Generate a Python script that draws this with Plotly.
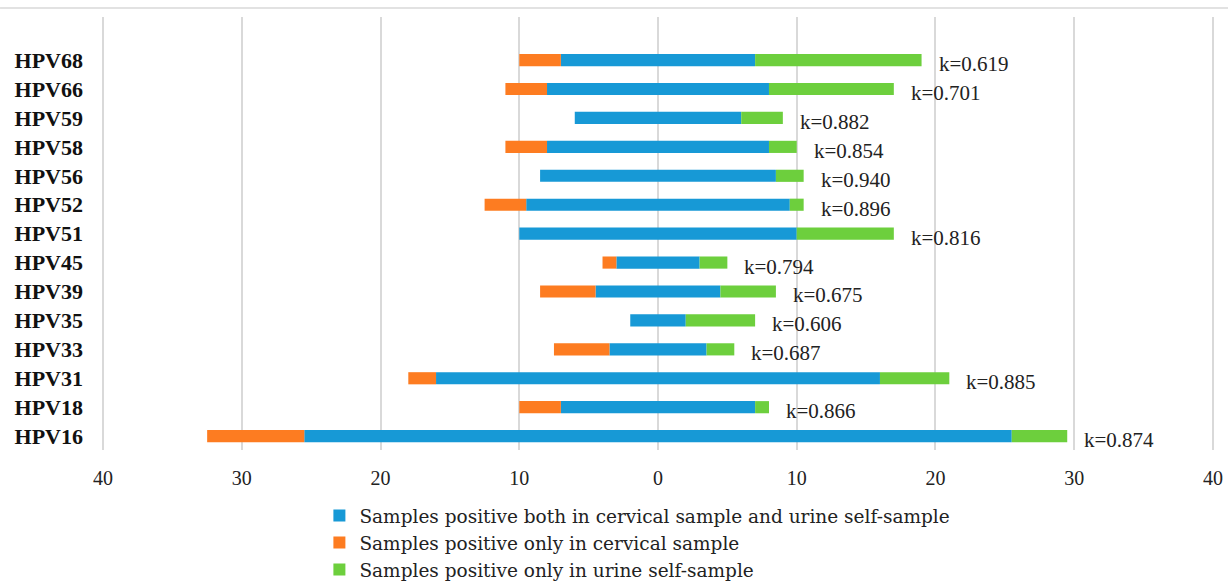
import plotly.graph_objects as go

types = ["HPV16", "HPV18", "HPV31", "HPV33", "HPV35", "HPV39", "HPV45",
         "HPV51", "HPV52", "HPV56", "HPV58", "HPV59", "HPV66", "HPV68"]
both = [51, 14, 32, 7, 4, 9, 6, 20, 19, 17, 16, 12, 16, 14]
cervical_only = [7, 3, 2, 4, 0, 4, 1, 0, 3, 0, 3, 0, 3, 3]
urine_only = [4, 1, 5, 2, 5, 4, 2, 7, 1, 2, 2, 3, 9, 12]
kappa = ["k=0.874", "k=0.866", "k=0.885", "k=0.687", "k=0.606", "k=0.675", "k=0.794",
         "k=0.816", "k=0.896", "k=0.940", "k=0.854", "k=0.882", "k=0.701", "k=0.619"]
tick_vals = [-40, -30, -20, -10, 0, 10, 20, 30, 40]
tick_text = ["40", "30", "20", "10", "0", "10", "20", "30", "40"]

names = ["Samples positive both in cervical sample and urine self-sample",
         "Samples positive only in cervical sample",
         "Samples positive only in urine self-sample"]
colors = ["#1799d6", "#fd7c21", "#6dcf3d"]
FONT = "Liberation Serif"
LEGFONT = "DejaVu Serif"

half = [b / 2 for b in both]
fig = go.Figure()
fig.add_trace(go.Bar(y=types, x=both, base=[-h for h in half], orientation="h",
                     name=names[0], legendgroup="a",
                     marker=dict(color=colors[0], line_width=0), width=0.42))
fig.add_trace(go.Bar(y=types, x=cervical_only, base=[-h - c for h, c in zip(half, cervical_only)],
                     orientation="h", name=names[1], legendgroup="b",
                     marker=dict(color=colors[1], line_width=0), width=0.42))
fig.add_trace(go.Bar(y=types, x=urine_only, base=half, orientation="h",
                     name=names[2], legendgroup="c",
                     marker=dict(color=colors[2], line_width=0), width=0.42))

for t, h, u, k in zip(types, half, urine_only, kappa):
    fig.add_annotation(x=h + u, y=t, text=k, showarrow=False, xanchor="left",
                       xshift=15, yshift=-4, font=dict(family=FONT, size=21, color="#222"))

fig.add_shape(type="line", xref="paper", yref="paper", x0=-0.0917, x1=1.0126,
              y0=1.0208, y1=1.0208, line=dict(color="#d9d9d9", width=1.5))

fig.update_layout(
    width=1228, height=587,
    margin=dict(l=102, r=14, t=17, b=137, autoexpand=False),
    paper_bgcolor="white", plot_bgcolor="white",
    barmode="overlay", showlegend=True,
    font=dict(family=FONT, size=20, color="#222"),
    legend=dict(x=0.1955, xanchor="left", y=-0.1085, yanchor="top", orientation="v",
                font=dict(family=LEGFONT, size=18.5, color="#222"), itemwidth=30,
                tracegroupgap=4, traceorder="normal"),
    xaxis=dict(range=[-40.08, 40.08], tickvals=tick_vals, ticktext=tick_text,
               showgrid=True, gridcolor="#d9d9d9", gridwidth=2, zeroline=False,
               showline=False, ticks="", automargin=False, ticklabelstandoff=14,
               tickfont=dict(family=FONT, size=20, color="#222")),
    yaxis=dict(type="category", categoryorder="array", categoryarray=types,
               range=[-0.48, 14.49], showgrid=False, zeroline=False, ticks="",
               ticklabelstandoff=18, automargin=False,
               tickfont=dict(family=FONT, size=22, color="#111", weight="bold")),
)
fig.write_html("out.html", config={"displayModeBar": False},
               post_script="document.body.style.margin='0';document.body.style.overflow='hidden';")
